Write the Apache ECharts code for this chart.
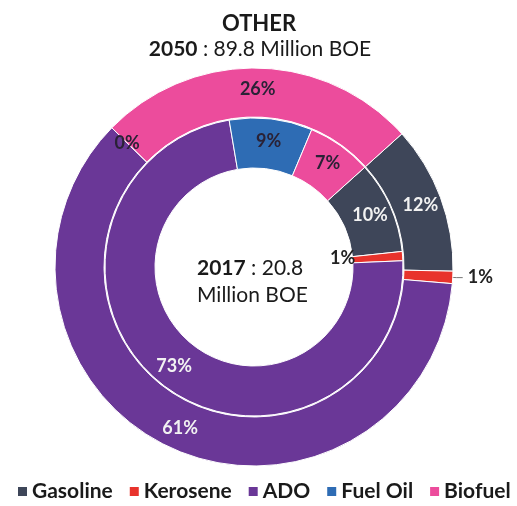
<!DOCTYPE html>
<html>
<head>
<meta charset="utf-8">
<script src="https://cdn.jsdelivr.net/npm/echarts@6/dist/echarts.min.js"></script>
<style>
html, body { margin: 0; padding: 0; background: #fff; }
#chart { width: 517px; height: 506px; }
</style>
</head>
<body>
<div id="chart"></div>
<script>
const chart = echarts.init(document.getElementById("chart"));

const fuels = ["Gasoline", "Kerosene", "ADO", "Fuel Oil", "Biofuel"];
const share2017 = [10, 1, 73, 9, 7];
const share2050 = [12, 1, 61, 0, 26];

const COLORS = ["#3e4659", "#e8332c", "#6a3797", "#2e6cb4", "#ec4c9c"];
const LABEL_COLORS = ["#f2f2f2", "#222", "#f2f2f2", "#2a2236", "#2a2236"];
const FONT = "Lato";

function ringData(values, isOuter) {
	return values.map((v, i) => {
		const item = { name: fuels[i], value: v };
		if (fuels[i] === "Kerosene") {
			if (isOuter) {
				item.label = { position: "outside", color: "#222" };
				item.labelLine = { show: true, length: 4, length2: 6, lineStyle: { color: "#777", width: 1 } };
			} else {
				item.label = { color: "#222", padding: [8, 76, 0, 0] };
			}
		} else {
			item.label = { color: LABEL_COLORS[i] };
		}
		return item;
	});
}

const ringBase = {
	type: "pie",
	center: [254, 267],
	startAngle: 42,
	clockwise: true,
	avoidLabelOverlap: false,
	itemStyle: { borderColor: "#fff", borderWidth: 1 },
	label: {
		show: true,
		position: "inside",
		formatter: "{c}%",
		fontFamily: FONT,
		fontWeight: "bold",
		fontSize: 18
	},
	labelLine: { show: false },
	emphasis: { disabled: true }
};

option = {
	color: COLORS,
	title: [{
		text: "OTHER",
		left: 254,
		textAlign: "center",
		top: 8,
		textStyle: { fontFamily: FONT, fontWeight: "bold", fontSize: 22, color: "#1a1a1a" }
	}, {
		text: "{b|2050} : 89.8 Million BOE",
		left: 255,
		textAlign: "center",
		top: 34,
		textStyle: {
			fontFamily: FONT, fontWeight: "normal", fontSize: 21, color: "#1a1a1a",
			rich: { b: { fontFamily: FONT, fontWeight: "bold", fontSize: 21, color: "#1a1a1a" } }
		}
	}, {
		text: "{b|2017} : 20.8\nMillion BOE",
		left: 192,
		top: 250,
		textStyle: {
			fontFamily: FONT, fontWeight: "normal", fontSize: 21, color: "#1a1a1a", lineHeight: 27,
			rich: { b: { fontFamily: FONT, fontWeight: "bold", fontSize: 21, color: "#1a1a1a", lineHeight: 27 } }
		}
	}],
	legend: {
		data: fuels,
		left: 16,
		top: 481,
		width: 517,
		padding: 0,
		itemWidth: 11,
		itemHeight: 11,
		itemGap: 15,
		icon: "rect",
		textStyle: { fontFamily: FONT, fontWeight: "bold", fontSize: 21, color: "#1a1a1a", padding: [0, 0, 0, -1] }
	},
	series: [
		Object.assign({}, ringBase, {
			name: "2017",
			radius: [99, 149],
			data: ringData(share2017, false)
		}),
		Object.assign({}, ringBase, {
			name: "2050",
			radius: [150, 199],
			data: ringData(share2050, true)
		})
	]
};

chart.setOption(option);
window.onresize = chart.resize;
</script>
</body>
</html>
